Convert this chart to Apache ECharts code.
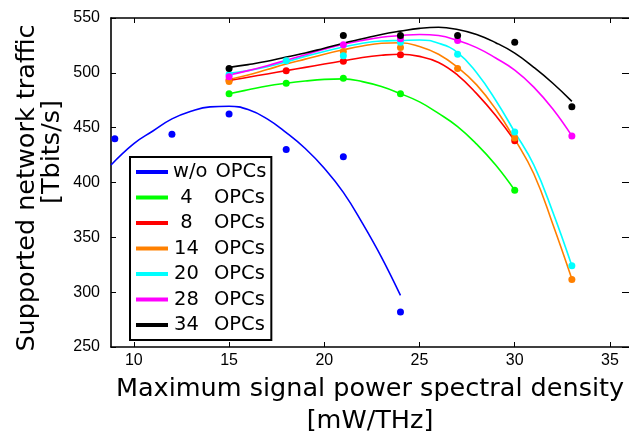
<!DOCTYPE html>
<html>
<head>
<meta charset="utf-8">
<script src="https://cdn.jsdelivr.net/npm/echarts@6/dist/echarts.min.js"></script>
<style>
html,body{margin:0;padding:0;background:#fff;}
#c{width:629px;height:439px;}
</style>
</head>
<body>
<div id="c"></div>
<script>
// ---- data ----
const seriesNames = ['w/o OPCs', '4 OPCs', '8 OPCs', '14 OPCs', '20 OPCs', '28 OPCs', '34 OPCs'];
const xTickValues = [10, 15, 20, 25, 30, 35];

// measured points (x = max PSD, mW/THz)
const dotX = [9, 12, 15, 18, 21, 24, 27, 30, 33];
const dotsWo = [440, 444, 462.5, 430, 423.5, 282, null, null, null];
const dots4  = [null, null, 481, 490.5, 495, 481, null, 393, null];
const dots8  = [null, null, 493.5, 502, 510.5, 516.5, null, 438, null];
const dots14 = [null, null, 492, null, 519.5, 523, 504, 440.5, 311.5];
const dots20 = [null, null, 498.5, 511, 515.5, 528, 517, 446, 324];
const dots28 = [null, null, 496.5, null, 525.5, 531, 529.5, null, 442.5];
const dots34 = [null, null, 504, null, 534, 534, 534, 528, 469];

// fitted curves: x positions and traffic values
const curveXWo = [8.8, 10, 11, 12, 13, 14, 15, 16, 17, 18, 19, 20, 21, 22, 23, 24];
const curveWo  = [416, 435.5, 447, 458, 465, 469, 469.5, 466.5, 458, 445.5, 431, 413, 391, 363, 332, 297];
const curveX   = [15, 16, 17, 18, 19, 20, 21, 22, 23, 24, 25, 26, 27, 28, 29, 30, 31, 32, 33];
const curve4   = [481, 484.5, 488, 490.5, 492.5, 494, 494.5, 492, 487.5, 481, 473.5, 463, 451, 435, 416, 393];
const curve8   = [493, 496, 499, 502, 505, 508, 511, 514, 516, 517, 515, 509.5, 498, 481, 461, 438];
const curve14  = [494, 498, 503, 508, 512.5, 517, 521, 524.5, 527, 527.5, 524, 517, 505, 489, 467, 439.5, 408, 362, 312];
const curve20  = [499.5, 502, 505.5, 510, 515, 519.5, 523.5, 527, 529, 529.5, 530, 527, 518.5, 500, 475, 446, 416, 373, 324];
const curve28  = [498, 502, 506.5, 511.5, 516.5, 521.5, 526, 529.5, 532.5, 534, 535, 534, 529.5, 523, 513.5, 502.5, 487, 467, 442.5];
const curve34  = [505, 507.5, 510.5, 514.5, 518, 522.5, 527, 531, 535, 538, 540.5, 541.5, 539.5, 535, 527.5, 518, 505, 490.5, 474];

// ---- build chart ----
const colors = ['#0000ff', '#00ff00', '#ff0000', '#ff8000', '#00ffff', '#ff00ff', '#000000'];
const curveXs = [curveXWo, curveX, curveX, curveX, curveX, curveX, curveX];
const curves = [curveWo, curve4, curve8, curve14, curve20, curve28, curve34];
const dots = [dotsWo, dots4, dots8, dots14, dots20, dots28, dots34];

const FONT = 'DejaVu Sans';
const series = [];
seriesNames.forEach((n, i) => {
  series.push({
    type: 'line', name: n,
    data: curves[i].map((v, k) => [curveXs[i][k], v]),
    xAxisIndex: 0, yAxisIndex: 0,
    smooth: 0.45, symbol: 'none', showSymbol: false, animation: false,
    lineStyle: { color: colors[i], width: 1.6 }, itemStyle: { color: colors[i] }, z: 2
  });
});
seriesNames.forEach((n, i) => {
  const pts = [];
  dotX.forEach((x, k) => { if (dots[i][k] != null) pts.push([x, dots[i][k]]); });
  series.push({
    type: 'scatter', name: n + ' data', data: pts, xAxisIndex: 0, yAxisIndex: 0,
    symbolSize: 7, animation: false, itemStyle: { color: colors[i], opacity: 1 }, z: 3
  });
});

const richBase = { fontFamily: FONT, fontSize: 19.5, color: '#000', lineHeight: 20 };

const option = {
  animation: false,
  backgroundColor: '#fff',
  grid: { left: 111, top: 18, width: 518, height: 329, containLabel: false },
  xAxis: [
    {
      type: 'value', min: 8.8, max: 36, position: 'bottom',
      axisLine: { show: true, onZero: false, lineStyle: { color: '#000', width: 1.6 } },
      axisTick: { show: true, inside: true, length: 5, customValues: xTickValues, lineStyle: { color: '#000', width: 1 } },
      axisLabel: { show: true, customValues: xTickValues, margin: 6, fontFamily: 'Liberation Sans', fontSize: 16, color: '#000' },
      splitLine: { show: false }
    },
    {
      type: 'value', min: 8.8, max: 36, position: 'top',
      axisLine: { show: true, onZero: false, lineStyle: { color: '#000', width: 1.6 } },
      axisTick: { show: true, inside: true, length: 5, customValues: xTickValues, lineStyle: { color: '#000', width: 1 } },
      axisLabel: { show: false },
      splitLine: { show: false }
    }
  ],
  yAxis: [
    {
      type: 'value', min: 250, max: 550, interval: 50, position: 'left',
      axisLine: { show: true, onZero: false, lineStyle: { color: '#000', width: 1.6 } },
      axisTick: { show: true, inside: true, length: 5, lineStyle: { color: '#000', width: 1 } },
      axisLabel: { show: true, margin: 11, fontFamily: 'Liberation Sans', fontSize: 16, color: '#000' },
      splitLine: { show: false }
    },
    {
      type: 'value', min: 250, max: 550, interval: 50, position: 'right',
      axisLine: { show: false },
      axisTick: { show: true, inside: true, length: 7, lineStyle: { color: '#000', width: 1 } },
      axisLabel: { show: false },
      splitLine: { show: false }
    }
  ],
  legend: {
    data: seriesNames,
    orient: 'vertical',
    left: 130, top: 157,
    padding: [5, 5, 5, 6],
    itemGap: 5.5,
    itemWidth: 32, itemHeight: 4,
    itemTextGap: 1,
    icon: 'rect',
    selectedMode: false,
    backgroundColor: '#fff',
    borderColor: '#000', borderWidth: 2, borderRadius: 0,
    textStyle: Object.assign({}, richBase, {
      rich: {
        w: Object.assign({}, richBase),
        o2: Object.assign({}, richBase, { padding: [0, 0, 0, 8] }),
        n: Object.assign({}, richBase, { width: 27, align: 'right' }),
        o: Object.assign({}, richBase, { padding: [0, 0, 0, 14] })
      }
    }),
    formatter: function (name) {
      const parts = name.split(' ');
      if (parts[0] === 'w/o') return '{w|' + parts[0] + '}{o2|' + parts[1] + '}';
      return '{n|' + parts[0] + '}{o|' + parts[1] + '}';
    }
  },
  graphic: [
    { type: 'text', x: 370, y: 389, style: { text: 'Maximum signal power spectral density', font: '25.5px "DejaVu Sans"', fill: '#000', align: 'center', verticalAlign: 'middle' } },
    { type: 'text', x: 370, y: 421, style: { text: '[mW/THz]', font: '25.5px "DejaVu Sans"', fill: '#000', align: 'center', verticalAlign: 'middle' } },
    { type: 'text', x: 27, y: 188, rotation: Math.PI / 2, style: { text: 'Supported network traffic', font: '25.5px "DejaVu Sans"', fill: '#000', align: 'center', verticalAlign: 'middle' } },
    { type: 'text', x: 52, y: 152, rotation: Math.PI / 2, style: { text: '[Tbits/s]', font: '25.5px "DejaVu Sans"', fill: '#000', align: 'center', verticalAlign: 'middle' } }
  ],
  series: series
};

const chart = echarts.init(document.getElementById('c'), null, { renderer: 'canvas' });
chart.setOption(option);
</script>
</body>
</html>
